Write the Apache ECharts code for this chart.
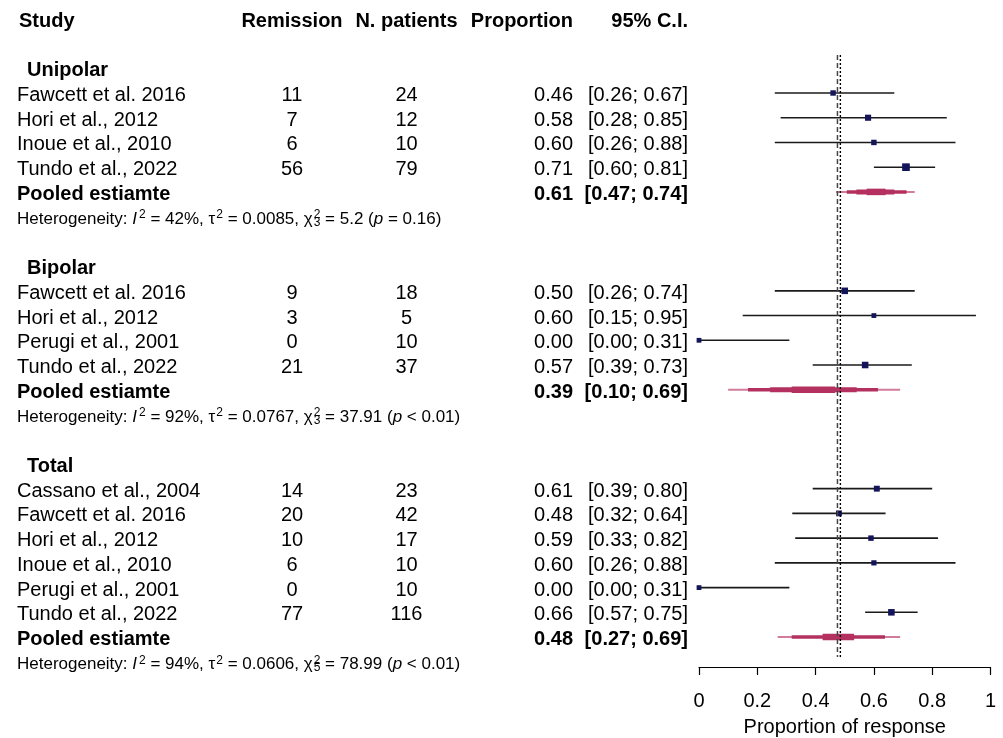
<!DOCTYPE html>
<html><head><meta charset="utf-8">
<script src="https://cdn.jsdelivr.net/npm/echarts@6/dist/echarts.min.js"></script>
<style>html,body{margin:0;padding:0;background:#fff}#c{width:1003px;height:738px}</style>
</head><body><div id="c"></div>
<script>
// ---------------- DATA ----------------
const headers = ['Study', 'Remission', 'N. patients', 'Proportion', '95% C.I.'];
const groupNames = ['Unipolar', 'Bipolar', 'Total'];
const pooledLabel = 'Pooled estiamte';

const unipolarStudies = ['Fawcett et al. 2016', 'Hori et al., 2012', 'Inoue et al., 2010', 'Tundo et al., 2022'];
const unipolarRemission = [11, 7, 6, 56];
const unipolarPatients = [24, 12, 10, 79];
const unipolarProp = [0.46, 0.58, 0.60, 0.71];
const unipolarLo = [0.26, 0.28, 0.26, 0.60];
const unipolarHi = [0.67, 0.85, 0.88, 0.81];
const unipolarWeight = [22, 28, 22, 42];
const unipolarPooled = [0.61, 0.47, 0.74];
const unipolarPooledBands = [[0.507, 0.712, 1], [0.54, 0.67, 2], [0.575, 0.64, 3]];

const bipolarStudies = ['Fawcett et al. 2016', 'Hori et al., 2012', 'Perugi et al., 2001', 'Tundo et al., 2022'];
const bipolarRemission = [9, 3, 0, 21];
const bipolarPatients = [18, 5, 10, 37];
const bipolarProp = [0.50, 0.60, 0.00, 0.57];
const bipolarLo = [0.26, 0.15, 0.00, 0.39];
const bipolarHi = [0.74, 0.95, 0.31, 0.73];
const bipolarWeight = [32, 16, 16, 32];
const bipolarPooled = [0.39, 0.10, 0.69];
const bipolarPooledBands = [[0.168, 0.614, 1], [0.244, 0.541, 2], [0.318, 0.467, 3]];

const totalStudies = ['Cassano et al., 2004', 'Fawcett et al. 2016', 'Hori et al., 2012', 'Inoue et al., 2010', 'Perugi et al., 2001', 'Tundo et al., 2022'];
const totalRemission = [14, 20, 10, 6, 0, 77];
const totalPatients = [23, 42, 17, 10, 10, 116];
const totalProp = [0.61, 0.48, 0.59, 0.60, 0.00, 0.66];
const totalLo = [0.39, 0.32, 0.33, 0.26, 0.00, 0.57];
const totalHi = [0.80, 0.64, 0.82, 0.88, 0.31, 0.75];
const totalWeight = [26, 26, 22, 20, 16, 32];
const totalPooled = [0.48, 0.27, 0.69];
const totalPooledBands = [[0.318, 0.638, 1], [0.424, 0.532, 3]];

const hetI2 = ['42%', '92%', '94%'];
const hetTau2 = ['0.0085', '0.0767', '0.0606'];
const hetChi2 = ['5.2', '37.91', '78.99'];
const hetDf = ['3', '3', '5'];
const hetP = ['= 0.16', '< 0.01', '< 0.01'];

const refDashed = 0.475;   // random-effects overall (dashed)
const refDotted = 0.485;   // common-effect overall (dotted)

const xTicksMin = 0, xTicksMax = 1, xTickStep = 0.2;
const xAxisTitle = 'Proportion of response';

// ---------------- BUILD ROWS ----------------
const groups = [
  {studies: unipolarStudies, rem: unipolarRemission, n: unipolarPatients, prop: unipolarProp, lo: unipolarLo, hi: unipolarHi, w: unipolarWeight, pooled: unipolarPooled, bands: unipolarPooledBands},
  {studies: bipolarStudies, rem: bipolarRemission, n: bipolarPatients, prop: bipolarProp, lo: bipolarLo, hi: bipolarHi, w: bipolarWeight, pooled: bipolarPooled, bands: bipolarPooledBands},
  {studies: totalStudies, rem: totalRemission, n: totalPatients, prop: totalProp, lo: totalLo, hi: totalHi, w: totalWeight, pooled: totalPooled, bands: totalPooledBands}
];

const rows = [{row: 0, type: 'header'}];
const studyPts = [];
const pooledSegs = [];
let r = 2;
groups.forEach((g, gi) => {
  rows.push({row: r, type: 'group', name: groupNames[gi]});
  g.studies.forEach((s, i) => {
    const rr = r + 1 + i;
    rows.push({row: rr, type: 'study', name: s, rem: g.rem[i], n: g.n[i], prop: g.prop[i], lo: g.lo[i], hi: g.hi[i]});
    studyPts.push([g.prop[i], rr, g.lo[i], g.hi[i], g.w[i]]);
  });
  const pr = r + 1 + g.studies.length;
  rows.push({row: pr, type: 'pooled', prop: g.pooled[0], lo: g.pooled[1], hi: g.pooled[2]});
  pooledSegs.push([g.pooled[1], pr, g.pooled[2], 0]);
  g.bands.forEach(b => pooledSegs.push([b[0], pr, b[1], b[2]]));
  rows.push({row: pr + 1, type: 'het', gi: gi});
  r = pr + 3;
});

// ---------------- STYLE / LAYOUT ----------------
const FF = '"Liberation Sans", Arial, Helvetica, sans-serif';
const F_NORM = '20px ' + FF;
const F_BOLD = 'bold 20px ' + FF;
const COL = {study: 17, group: 27, rem: 292, n: 406.5, prop: 573, ci: 688};
const rowTop = 18.8, rowH = 24.73;
const axisY = 667;
const yMax = (axisY - rowTop) / rowH;
const refTop = (55 - rowTop) / rowH, refBottom = (657 - rowTop) / rowH;
const levelH = [2, 3.5, 5, 6.5];
const textDy = 2.5;

const f2 = v => v.toFixed(2);
const ciTxt = (lo, hi) => '[' + f2(lo) + '; ' + f2(hi) + ']';

const measureCtx = document.createElement('canvas').getContext('2d');
function textW(t, font) { measureCtx.font = font; return measureCtx.measureText(t).width; }

function T(x, y, text, font, align) {
  return {type: 'text', x: x, y: y,
    style: {text: text, font: font, fill: '#000', align: align || 'left', verticalAlign: 'middle',
            textAlign: align || 'left', textVerticalAlign: 'middle'}};
}

function hetGroup(gi, x0, y) {
  const fn = '17px ' + FF, fi = 'italic 17px ' + FF, fs = '12px ' + FF;
  const segs = [
    {t: 'Heterogeneity: ', f: fn},
    {t: 'I', f: fi},
    {t: '2', f: fs, dy: -4, pre: 2},
    {t: ' = ' + hetI2[gi] + ', \u03C4', f: fn},
    {t: '2', f: fs, dy: -4, pre: 1},
    {t: ' = ' + hetTau2[gi] + ', \u03C7', f: fn},
    {t: '2', f: fs, dy: -4, pre: 1, noAdv: true},
    {t: hetDf[gi], f: fs, dy: 3.5, pre: 1},
    {t: ' = ' + hetChi2[gi] + ' (', f: fn},
    {t: 'p', f: fi},
    {t: ' ' + hetP[gi] + ')', f: fn}
  ];
  let x = x0;
  const children = [];
  segs.forEach(s => {
    const xs = x + (s.pre || 0);
    children.push(T(xs, y + (s.dy || 0), s.t, s.f, 'left'));
    if (!s.noAdv) x = xs + textW(s.t, s.f);
  });
  return children;
}

function renderText(params, api) {
  const row = rows[params.dataIndex];
  const y = api.coord([0, row.row])[1] + textDy;
  let ch = [];
  if (row.type === 'header') {
    ch = [T(COL.study + 2, y, headers[0], F_BOLD, 'left'),
          T(COL.rem, y, headers[1], F_BOLD, 'center'),
          T(COL.n, y, headers[2], F_BOLD, 'center'),
          T(COL.prop, y, headers[3], F_BOLD, 'right'),
          T(COL.ci, y, headers[4], F_BOLD, 'right')];
  } else if (row.type === 'group') {
    ch = [T(COL.group, y, row.name, F_BOLD, 'left')];
  } else if (row.type === 'study') {
    ch = [T(COL.study, y, row.name, F_NORM, 'left'),
          T(COL.rem, y, String(row.rem), F_NORM, 'center'),
          T(COL.n, y, String(row.n), F_NORM, 'center'),
          T(COL.prop, y, f2(row.prop), F_NORM, 'right'),
          T(COL.ci, y, ciTxt(row.lo, row.hi), F_NORM, 'right')];
  } else if (row.type === 'pooled') {
    ch = [T(COL.study, y, pooledLabel, F_BOLD, 'left'),
          T(COL.prop, y, f2(row.prop), F_BOLD, 'right'),
          T(COL.ci, y, ciTxt(row.lo, row.hi), F_BOLD, 'right')];
  } else if (row.type === 'het') {
    ch = hetGroup(row.gi, COL.study, y);
  }
  return {type: 'group', children: ch};
}

function renderStudy(params, api) {
  const p = api.coord([api.value(0), api.value(1)]);
  const a = api.coord([api.value(2), api.value(1)]);
  const b = api.coord([api.value(3), api.value(1)]);
  const s = 3 + api.value(4) / 9;
  return {type: 'group', children: [
    {type: 'line', shape: {x1: a[0], y1: a[1], x2: b[0], y2: b[1]}, style: {stroke: '#1a1a1a', lineWidth: 1.6}},
    {type: 'rect', shape: {x: p[0] - s / 2, y: p[1] - s / 2, width: s, height: s}, style: {fill: '#14145a'}}
  ]};
}

function renderPooled(params, api) {
  const a = api.coord([api.value(0), api.value(1)]);
  const b = api.coord([api.value(2), api.value(1)]);
  const lv = api.value(3);
  const h = levelH[lv];
  return {type: 'rect', shape: {x: a[0], y: a[1] - h / 2, width: b[0] - a[0], height: h},
          style: {fill: lv === 0 ? '#d17c9d' : '#b3305f'}};
}

const chart = echarts.init(document.getElementById('c'), null, {renderer: 'canvas'});
chart.setOption({
  animation: false,
  backgroundColor: '#ffffff',
  grid: {left: 699, width: 291.5, top: rowTop, height: axisY - rowTop, containLabel: false, outerBoundsMode: 'none'},
  xAxis: {
    type: 'value', min: xTicksMin, max: xTicksMax, interval: xTickStep,
    position: 'bottom',
    axisLine: {show: true, onZero: false, lineStyle: {color: '#000', width: 1.2}},
    axisTick: {show: true, length: 8, lineStyle: {color: '#000', width: 1.2}},
    axisLabel: {color: '#000', fontSize: 20, fontFamily: FF, margin: 24,
                formatter: v => (Math.round(v * 10) / 10).toString()},
    splitLine: {show: false},
    name: xAxisTitle, nameLocation: 'middle', nameGap: 50,
    nameTextStyle: {color: '#000', fontSize: 20, fontFamily: FF}
  },
  yAxis: {type: 'value', inverse: true, min: 0, max: yMax, show: false},
  series: [
    {type: 'line', data: [[refDashed, refTop], [refDashed, refBottom]], symbol: 'none', silent: true,
     lineStyle: {color: '#444', width: 1.5, type: [5, 3]}},
    {type: 'line', data: [[refDotted, refTop], [refDotted, refBottom]], symbol: 'none', silent: true,
     lineStyle: {color: '#000', width: 1.4, type: [2, 2]}},
    {type: 'custom', renderItem: renderStudy, data: studyPts, clip: false, encode: {x: 0, y: 1}, z: 3},
    {type: 'custom', renderItem: renderPooled, data: pooledSegs, clip: false, encode: {x: [0, 2], y: 1}, z: 3},
    {type: 'custom', renderItem: renderText, data: rows.map(o => [0, o.row]), clip: false, encode: {x: 0, y: 1}, z: 4, silent: true}
  ]
});
</script>
</body></html>
